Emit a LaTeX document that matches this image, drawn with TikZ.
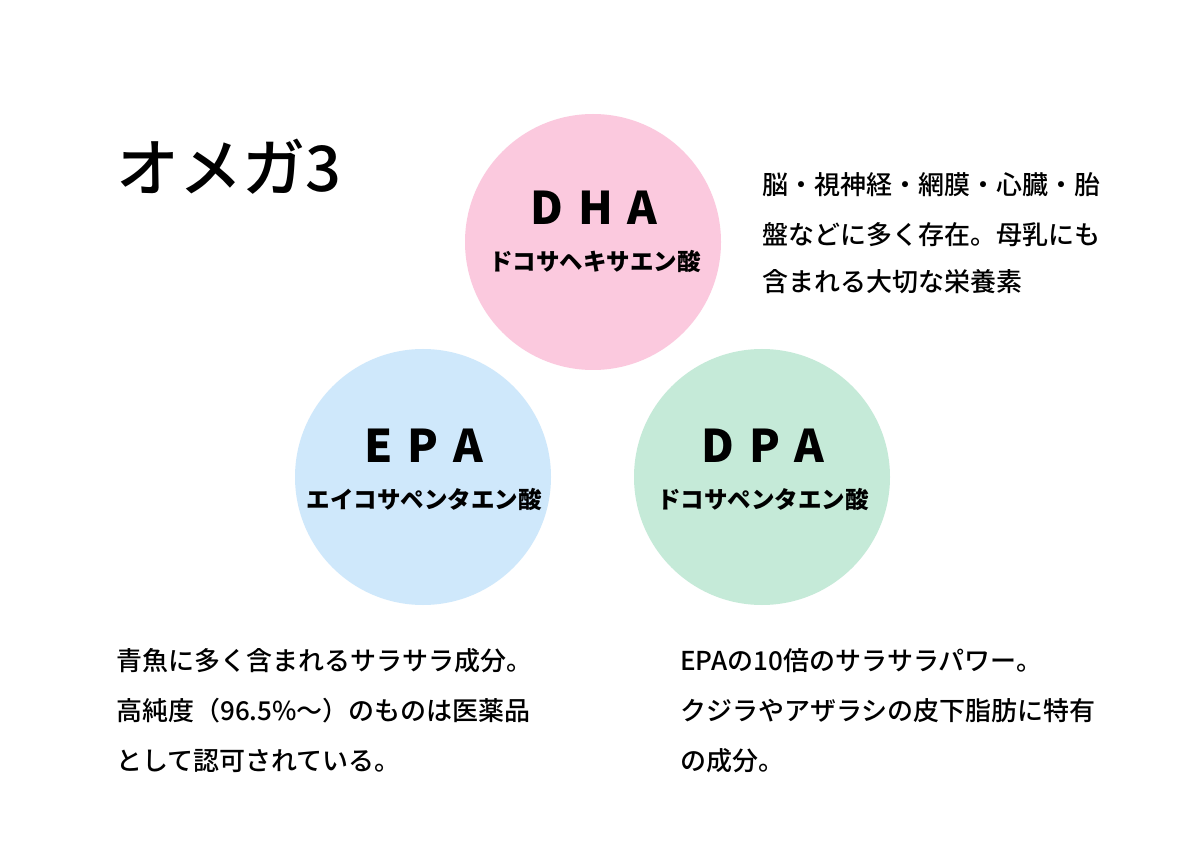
\documentclass[tikz,border=0pt]{standalone}
\usepackage{fontspec}
\setmainfont{Noto Sans CJK JP}
\newfontfamily\jp{Noto Sans CJK JP}
\newfontfamily\jpm{Noto Sans CJK JP Medium}
\definecolor{dhapink}{HTML}{FBC9DE}
\definecolor{epablue}{HTML}{CFE8FB}
\definecolor{dpagreen}{HTML}{C5EAD8}
\tikzset{
  bubble/.style={circle, minimum size=256pt, inner sep=0pt, draw=none},
  acid/.style={font=\jp\bfseries\fontsize{45}{45}\selectfont, anchor=base, inner sep=0pt},
  acidsub/.style={font=\jp\bfseries\fontsize{23.5}{23.5}\selectfont, anchor=base, inner sep=0pt},
  body/.style={font=\jpm\fontsize{26}{26}\selectfont, anchor=base west, inner sep=0pt},
  ttl/.style={font=\jpm\fontsize{63}{63}\selectfont, anchor=base west, inner sep=0pt}
}
\newcommand{\lsp}{\hspace{15pt}}
\begin{document}
\begin{tikzpicture}[x=1pt,y=-1pt]
\useasboundingbox[fill=white] (0,0) rectangle (1192,850);
% circles
\node[bubble, fill=dhapink] (dha) at (593,242) {};
\node[bubble, fill=epablue] (epa) at (423,477) {};
\node[bubble, fill=dpagreen] (dpa) at (762,477) {};
% title
\node[ttl] (title) at (116,192) {オメガ3};
% circle labels
\node[acid] (dhat) at (594,225) {D\lsp H\lsp A};
\node[acidsub] (dhas) at (595,271) {ドコサヘキサエン酸};
\node[acid] (epat) at (424,462) {E\lsp P\lsp A};
\node[acidsub] (epas) at (424,508) {エイコサペンタエン酸};
\node[acid] (dpat) at (763,462) {D\lsp P\lsp A};
\node[acidsub] (dpas) at (763,508) {ドコサペンタエン酸};
% DHA description
\node[body] (r1) at (762,195) {脳・視神経・網膜・心臓・胎};
\node[body] (r2) at (762,245) {盤などに多く存在。母乳にも};
\node[body] (r3) at (762,292) {含まれる大切な栄養素};
% EPA description
\node[body] (l1) at (116,670) {青魚に多く含まれるサラサラ成分。};
\node[body] (l2) at (116,720) {高純度（96.5\%〜）のものは医薬品};
\node[body] (l3) at (116,770) {として認可されている。};
% DPA description
\node[body] (d1) at (680,670) {EPAの10倍のサラサラパワー。};
\node[body] (d2) at (680,720) {クジラやアザラシの皮下脂肪に特有};
\node[body] (d3) at (680,770) {の成分。};
\end{tikzpicture}
\end{document}
